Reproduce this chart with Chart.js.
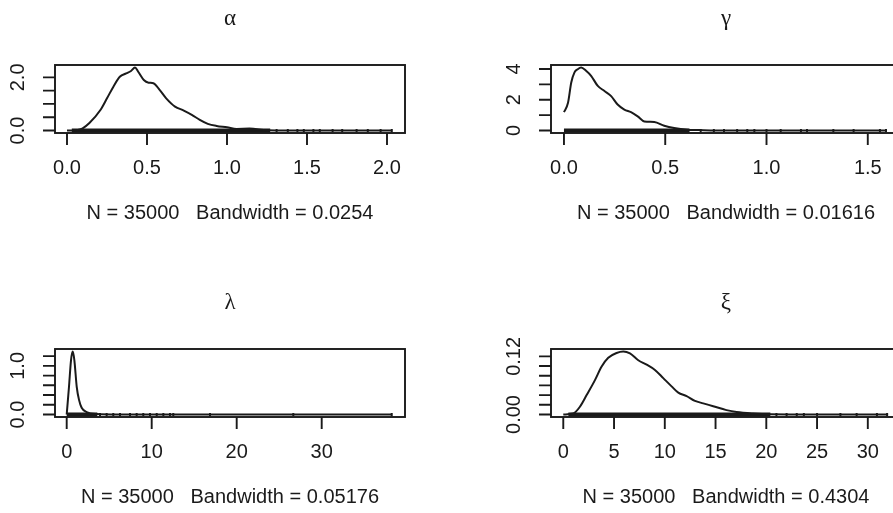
<!DOCTYPE html>
<html>
<head>
<meta charset="utf-8">
<script src="https://cdn.jsdelivr.net/npm/chart.js@4.4.1/dist/chart.umd.min.js"></script>
<style>
html, body { margin: 0; padding: 0; background: #fff; overflow: hidden; width: 893px; height: 513px; }
canvas { position: absolute; }
</style>
</head>
<body>
<canvas id="c0" width="470" height="229" style="left:0px;top:0px"></canvas>
<canvas id="c1" width="470" height="229" style="left:446px;top:0px"></canvas>
<canvas id="c2" width="470" height="229" style="left:0px;top:284px"></canvas>
<canvas id="c3" width="470" height="229" style="left:446px;top:284px"></canvas>
<script>
// panel titles and subtitles
const titles = ['α', 'γ', 'λ', 'ξ'];
const sampleSize = '35000';
const bandwidths = ['0.0254', '0.01616', '0.05176', '0.4304'];

// density curves
const alphaX = [0.0, 0.05, 0.08, 0.10, 0.14, 0.21, 0.25, 0.29, 0.33, 0.37, 0.40, 0.425, 0.445, 0.48, 0.51, 0.54, 0.58, 0.62, 0.675, 0.73, 0.78, 0.83, 0.88, 0.935, 1.0, 1.06, 1.14, 1.25, 1.4, 2.03];
const alphaY = [0.0, 0.01, 0.04, 0.09, 0.28, 0.78, 1.21, 1.65, 2.02, 2.15, 2.24, 2.37, 2.21, 1.90, 1.80, 1.78, 1.52, 1.21, 0.90, 0.75, 0.59, 0.40, 0.25, 0.17, 0.12, 0.06, 0.07, 0.01, 0.0, 0.0];

const gammaX = [0.0, 0.02, 0.036, 0.052, 0.068, 0.085, 0.109, 0.134, 0.167, 0.2, 0.233, 0.265, 0.298, 0.331, 0.364, 0.397, 0.446, 0.495, 0.544, 0.61, 0.69, 0.8, 1.59];
const gammaY = [1.19, 1.80, 3.12, 3.78, 3.99, 4.10, 3.89, 3.56, 2.90, 2.57, 2.24, 1.69, 1.36, 1.19, 0.92, 0.59, 0.55, 0.31, 0.16, 0.05, 0.02, 0.0, 0.0];

const lambdaX = [0.0, 0.27, 0.51, 0.71, 0.9, 1.18, 1.45, 1.76, 2.35, 3.53, 6.0, 38.2];
const lambdaY = [0.0, 0.57, 1.12, 1.295, 1.12, 0.57, 0.30, 0.14, 0.05, 0.01, 0.0, 0.0];

const xiX = [0, 0.98, 1.64, 2.30, 3.12, 3.78, 4.43, 5.25, 5.91, 6.57, 7.39, 8.21, 9.03, 9.85, 10.67, 11.33, 12.15, 12.97, 13.79, 14.77, 16.08, 17.07, 18.7, 20.4, 25, 32];
const xiY = [0, 0.002, 0.016, 0.040, 0.071, 0.099, 0.117, 0.127, 0.130, 0.126, 0.112, 0.103, 0.092, 0.075, 0.058, 0.045, 0.038, 0.028, 0.023, 0.017, 0.009, 0.005, 0.002, 0.0005, 0, 0];

// observations: dense stretch and the sparse tail marks
const rugDense = [[0.03, 1.27], [0.0, 0.62], [0.0, 3.6], [0.5, 20.4]];
const rugTail = [
    [1.31, 1.38, 1.44, 1.48, 1.54, 1.58, 1.66, 1.72, 1.81, 1.88, 1.96, 2.03],
    [0.675, 0.74, 0.79, 0.855, 0.905, 0.94, 1.0, 1.07, 1.17, 1.2, 1.33, 1.43, 1.56, 1.59],
    [3.92, 4.7, 5.48, 6.27, 7.45, 8.23, 9.01, 9.8, 10.59, 11.37, 12.15, 12.54, 16.86, 26.66, 38.24],
    [21.0, 22.0, 23.0, 23.7, 25.0, 27.3, 28.9, 30.9, 31.9]
];

// axes
const xLimits = [[-0.075, 2.1125], [-0.064, 1.664], [-1.376, 39.8], [-1.21, 33.27]];
const xTicks = [[0, 0.5, 1, 1.5, 2], [0, 0.5, 1, 1.5], [0, 10, 20, 30], [0, 5, 10, 15, 20, 25, 30]];
const xTickLabels = [['0.0', '0.5', '1.0', '1.5', '2.0'], ['0.0', '0.5', '1.0', '1.5'], ['0', '10', '20', '30'], ['0', '5', '10', '15', '20', '25', '30']];
const yTicks = [[0, 0.5, 1, 1.5, 2], [0, 1, 2, 3, 4], [0, 0.2, 0.4, 0.6, 0.8, 1.0, 1.2], [0, 0.02, 0.04, 0.06, 0.08, 0.10, 0.12]];
const yLabelValues = [[0, 2], [0, 2, 4], [0, 1], [0, 0.12]];
const yLabelTexts = [['0.0', '2.0'], ['0', '2', '4'], ['0.0', '1.0'], ['0.00', '0.12']];

const densX = [alphaX, gammaX, lambdaX, xiX];
const densY = [alphaY, gammaY, lambdaY, xiY];

const pads = [
    {left: 55, right: 65, top: 65, bottom: 96},
    {left: 105, right: 15, top: 65, bottom: 96},
    {left: 55, right: 65, top: 65, bottom: 96},
    {left: 105, right: 15, top: 65, bottom: 96}
];

const ink = '#1a1a1a';
const numFont = '20px "Liberation Sans", Arial, sans-serif';

// R style frame, ticks and texts, placed through the chart scales
const rFrame = {
    id: 'rFrame',
    afterDraw(chart) {
        const i = chart.options.plugins.rFrame.panel;
        const ctx = chart.ctx;
        const a = chart.chartArea;
        const xs = chart.scales.x;
        const ys = chart.scales.y;
        ctx.save();
        ctx.strokeStyle = ink;
        ctx.fillStyle = ink;
        ctx.lineWidth = 1.9;
        ctx.strokeRect(a.left, a.top, a.right - a.left, a.bottom - a.top);

        // x axis
        ctx.beginPath();
        xTicks[i].forEach((v) => {
            const px = xs.getPixelForValue(v);
            ctx.moveTo(px, a.bottom);
            ctx.lineTo(px, a.bottom + 12);
        });
        ctx.stroke();
        ctx.font = numFont;
        ctx.textAlign = 'center';
        ctx.textBaseline = 'middle';
        xTicks[i].forEach((v, k) => {
            ctx.fillText(xTickLabels[i][k], xs.getPixelForValue(v), 168);
        });

        // y axis
        ctx.beginPath();
        yTicks[i].forEach((v) => {
            const py = ys.getPixelForValue(v);
            ctx.moveTo(a.left, py);
            ctx.lineTo(a.left - 12, py);
        });
        ctx.stroke();
        yLabelValues[i].forEach((v, k) => {
            ctx.save();
            ctx.translate(a.left - 37, ys.getPixelForValue(v));
            ctx.rotate(-Math.PI / 2);
            ctx.fillText(yLabelTexts[i][k], 0, 0);
            ctx.restore();
        });

        // title and subtitle
        const cx = (a.left + a.right) / 2;
        ctx.font = '23px "Liberation Serif", "DejaVu Serif", serif';
        ctx.textBaseline = 'alphabetic';
        ctx.fillText(titles[i], cx, 25);
        ctx.font = numFont;
        ctx.textBaseline = 'middle';
        ctx.fillText('N = ' + sampleSize + '   Bandwidth = ' + bandwidths[i], cx, 213);
        ctx.restore();
    }
};

const makeChart = (i) => {
    const curve = densX[i].map((x, k) => ({x: x, y: densY[i][k]}));
    const dense = rugDense[i].map((x) => ({x: x, y: 0}));
    const tail = rugTail[i].map((x) => ({x: x, y: 0}));
    const top = Math.max(...densY[i]);
    return new Chart(document.getElementById('c' + i), {
        type: 'line',
        data: {
            datasets: [
                {data: curve, borderColor: ink, borderWidth: 2, pointRadius: 0, cubicInterpolationMode: 'monotone', fill: false},
                {data: dense, borderColor: ink, borderWidth: 4, pointRadius: 0, fill: false},
                {type: 'scatter', data: tail, pointStyle: 'line', rotation: 90, pointRadius: 1.5, borderColor: ink, borderWidth: 2}
            ]
        },
        options: {
            responsive: false,
            animation: false,
            events: [],
            layout: {padding: pads[i]},
            plugins: {
                legend: {display: false},
                tooltip: {enabled: false},
                rFrame: {panel: i}
            },
            scales: {
                x: {type: 'linear', display: false, min: xLimits[i][0], max: xLimits[i][1]},
                y: {type: 'linear', display: false, min: -0.04 * top, max: 1.04 * top}
            }
        },
        plugins: [rFrame]
    });
};

[0, 1, 2, 3].forEach((i) => makeChart(i));
</script>
</body>
</html>
